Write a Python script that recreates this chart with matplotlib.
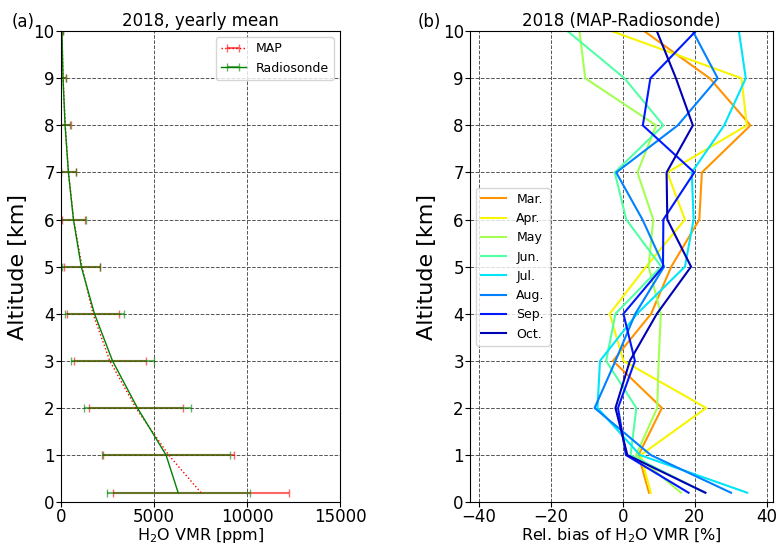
import numpy as np
import matplotlib
matplotlib.use('Agg')
import matplotlib.pyplot as plt

# altitude levels [km]
alt = [0.2, 1, 2, 3, 4, 5, 6, 7, 8, 9, 10]

# yearly mean H2O VMR [ppm] and std
map_mean = [7530, 5790, 4030, 2625, 1720, 1130, 680, 400, 230, 110, 50]
map_std = [4750, 3510, 2545, 1945, 1380, 950, 620, 400, 290, 140, 50]
rs_mean = [6300, 5650, 4110, 2770, 1800, 1090, 670, 400, 220, 110, 50]
rs_std = [3840, 3450, 2890, 2250, 1600, 1030, 650, 405, 290, 140, 50]

# monthly relative bias [%]
months = ['Mar.', 'Apr.', 'May', 'Jun.', 'Jul.', 'Aug.', 'Sep.', 'Oct.']
bias_mar = [7.3, 4.4, 10.9, -2.7, 7.9, 13.5, 21.3, 22.0, 35.5, 24.2, 6.0]
bias_apr = [7.8, 5.0, 23.2, 0.2, -3.6, 6.5, 17.3, 12.4, 34.5, 33.0, -3.0]
bias_may = [16.2, 3.7, 9.6, 10.0, 10.6, 7.2, 8.5, 4.1, 9.3, -10.4, -12.0]
bias_jun = [22.8, 2.2, 3.8, -4.6, -2.0, 10.7, 1.0, -2.2, 11.3, 0.5, -15.3]
bias_jul = [34.6, 4.8, -7.0, -6.3, 4.0, 17.3, 19.7, 19.2, 28.2, 34.2, 32.3]
bias_aug = [30.1, 7.8, -7.8, -2.0, 3.5, 11.5, 5.5, -1.8, 15.3, 26.4, 19.5]
bias_sep = [18.3, 0.9, -1.3, 3.4, 0.2, 11.2, 11.3, 19.9, 5.6, 7.7, 20.3]
bias_oct = [23.0, 1.3, -2.0, 2.0, 9.5, 19.0, 12.4, 12.2, 19.5, 14.8, 9.5]
biases = [bias_mar, bias_apr, bias_may, bias_jun, bias_jul, bias_aug, bias_sep, bias_oct]
cpos = [0.75, 0.65, 0.55, 0.45, 0.35, 0.25, 0.15, 0.05]

fig = plt.figure(figsize=(7.77, 5.47), dpi=100)
ax1 = fig.add_axes([0.0785, 0.082, 0.359, 0.861])
ax2 = fig.add_axes([0.605, 0.082, 0.39, 0.861])

# (a) yearly mean
eb1 = ax1.errorbar(map_mean, alt, xerr=map_std, color='r', ls=':', lw=1,
                   capsize=3, elinewidth=1.5, label='MAP')
eb2 = ax1.errorbar(rs_mean, alt, xerr=rs_std, color='g', ls='-', lw=1,
                   capsize=3, elinewidth=1.5, label='Radiosonde')
for eb in (eb1, eb2):
    for c in eb[1]:
        c.set_alpha(0.6)
    for b in eb[2]:
        b.set_alpha(0.6)
ax1.set_xlim(0, 15000)
ax1.set_ylim(0, 10)
ax1.set_xticks([0, 5000, 10000, 15000])
ax1.set_yticks(range(0, 11))
ax1.grid(True, ls='--', color='#555555', lw=0.7)
ax1.tick_params(labelsize=12, pad=1)
ax1.set_xlabel('H$_2$O VMR [ppm]', fontsize=11.5, labelpad=0)
ax1.set_ylabel('Altitude [km]', fontsize=16)
ax1.set_title('2018, yearly mean', fontsize=12, pad=4)
ax1.legend(loc='upper right', fontsize=9)

# (b) monthly bias
for m, b, p in zip(months, biases, cpos):
    ax2.plot(b, alt, color=plt.cm.jet(p), lw=1.5, label=m)
ax2.set_xlim(-42.4, 41.8)
ax2.set_ylim(0, 10)
ax2.set_xticks([-40, -20, 0, 20, 40])
ax2.set_yticks(range(0, 11))
ax2.grid(True, ls='--', color='#555555', lw=0.7)
ax2.tick_params(labelsize=12, pad=1)
ax2.set_xlabel('Rel. bias of H$_2$O VMR [%]', fontsize=11.5, labelpad=0)
ax2.set_ylabel('Altitude [km]', fontsize=16)
ax2.set_title('2018 (MAP-Radiosonde)', fontsize=12, pad=4)
ax2.legend(loc='center left', fontsize=9)

fig.text(0.015, 0.951, '(a)', fontsize=12)
fig.text(0.538, 0.951, '(b)', fontsize=12)

fig.savefig('out.png', dpi=100)
